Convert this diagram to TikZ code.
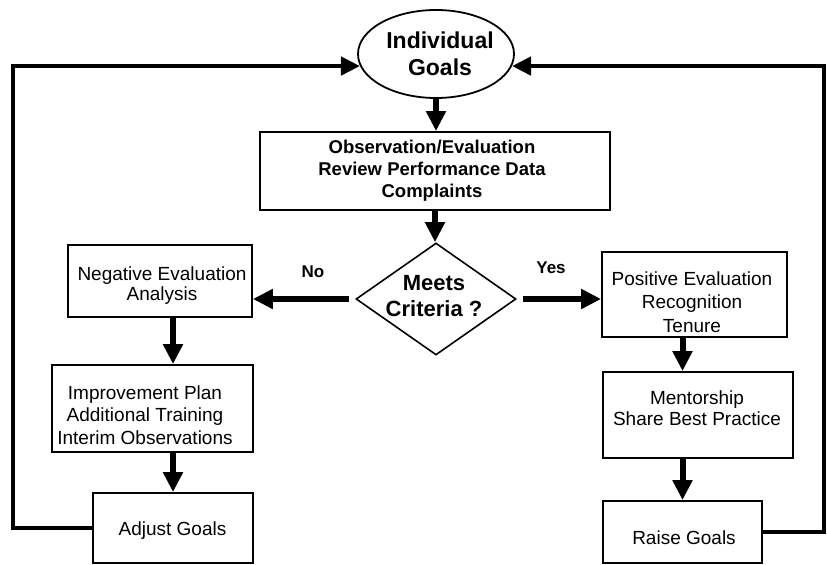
\documentclass[tikz,border=0pt]{standalone}
\usepackage{fontspec}
\setmainfont{Liberation Sans}
\usetikzlibrary{arrows.meta,shapes.geometric}
\begin{document}
\begin{tikzpicture}[x=1bp,y=-1bp,
  frame/.style={draw=black, line width=1.8bp, fill=white, inner sep=0pt, rectangle},
  oval/.style={draw=black, line width=1.8bp, fill=white, inner sep=0pt, ellipse},
  choice/.style={draw=black, line width=1.6bp, fill=white, inner sep=0pt, diamond},
  txt/.style={align=center, inner sep=0pt, font=\fontsize{19bp}{22bp}\selectfont},
  btxt/.style={align=center, inner sep=0pt, font=\fontsize{18.5bp}{22bp}\selectfont\bfseries},
  flow/.style={line width=6bp, -{Triangle[length=20bp,width=19bp]}},
  back/.style={line width=4.5bp, -{Triangle[length=19bp,width=18bp]}}]
\useasboundingbox (0,0) rectangle (827,565);

% shapes
\node[oval, minimum width=156bp, minimum height=88bp] (goals) at (436,54) {};
\node[frame, minimum width=350bp, minimum height=78bp] (obs) at (435,171) {};
\node[choice, minimum width=160bp, minimum height=112bp] (crit) at (436,299) {};
\node[frame, minimum width=184bp, minimum height=72bp] (neg) at (160,281) {};
\node[frame, minimum width=201bp, minimum height=87bp] (imp) at (152.5,408.5) {};
\node[frame, minimum width=160bp, minimum height=70bp] (adj) at (173,528) {};
\node[frame, minimum width=185bp, minimum height=85bp] (pos) at (694.5,294.5) {};
\node[frame, minimum width=190bp, minimum height=86bp] (ment) at (698,415) {};
\node[frame, minimum width=159bp, minimum height=62bp] (raise) at (682.5,532) {};

% texts
\node[btxt, font=\fontsize{23bp}{27bp}\selectfont\bfseries] (goalstext) at (440,54) {Individual\\Goals};
\node[btxt] (obstext) at (432,171) {Observation/Evaluation\\Review Performance Data\\Complaints};
\node[btxt, font=\fontsize{22bp}{26bp}\selectfont\bfseries] (crittext) at (434,296) {Meets\\Criteria ?};
\node[txt, font=\fontsize{19bp}{20bp}\selectfont] (negtext) at (162,286) {Negative Evaluation\\Analysis};
\node[txt, font=\fontsize{19bp}{22.5bp}\selectfont] (imptext) at (145,415) {Improvement Plan\\Additional Training\\Interim Observations};
\node[txt] (adjtext) at (172.5,531) {Adjust Goals};
\node[txt, font=\fontsize{19bp}{23.5bp}\selectfont] (postext) at (692,302) {Positive Evaluation\\Recognition\\Tenure};
\node[txt, font=\fontsize{19bp}{21bp}\selectfont] (menttext) at (697,408) {Mentorship\\Share Best Practice};
\node[txt] (raisetext) at (684,538) {Raise Goals};
\node[btxt, font=\fontsize{17bp}{20bp}\selectfont\bfseries] (nolabel) at (313,272) {No};
\node[btxt, font=\fontsize{17bp}{20bp}\selectfont\bfseries] (yeslabel) at (551,268) {Yes};

% main flow
\draw[flow] (goals.south) -- (goals.south |- obs.north);
\draw[flow] (obs.south) -- (obs.south |- crit.north);
\draw[flow, shorten <=6bp] (crit.west) -- (crit.west -| neg.east);
\draw[flow, shorten <=6bp] (crit.east) -- (crit.east -| pos.west);
\draw[flow] (neg.south -| adj.north) -- (imp.north -| adj.north);
\draw[flow] (imp.south -| adj.north) -- (adj.north);
\draw[flow] (pos.south -| raise.north) -- (ment.north -| raise.north);
\draw[flow] (ment.south -| raise.north) -- (raise.north);

% feedback loops
\coordinate (lx) at (13,0);
\coordinate (rx) at (824,0);
\draw[back] (adj.west) -- (adj.west -| lx) |- (goals.189);
\draw[back] (raise.east) -- (raise.east -| rx) |- (goals.351);
\end{tikzpicture}
\end{document}
